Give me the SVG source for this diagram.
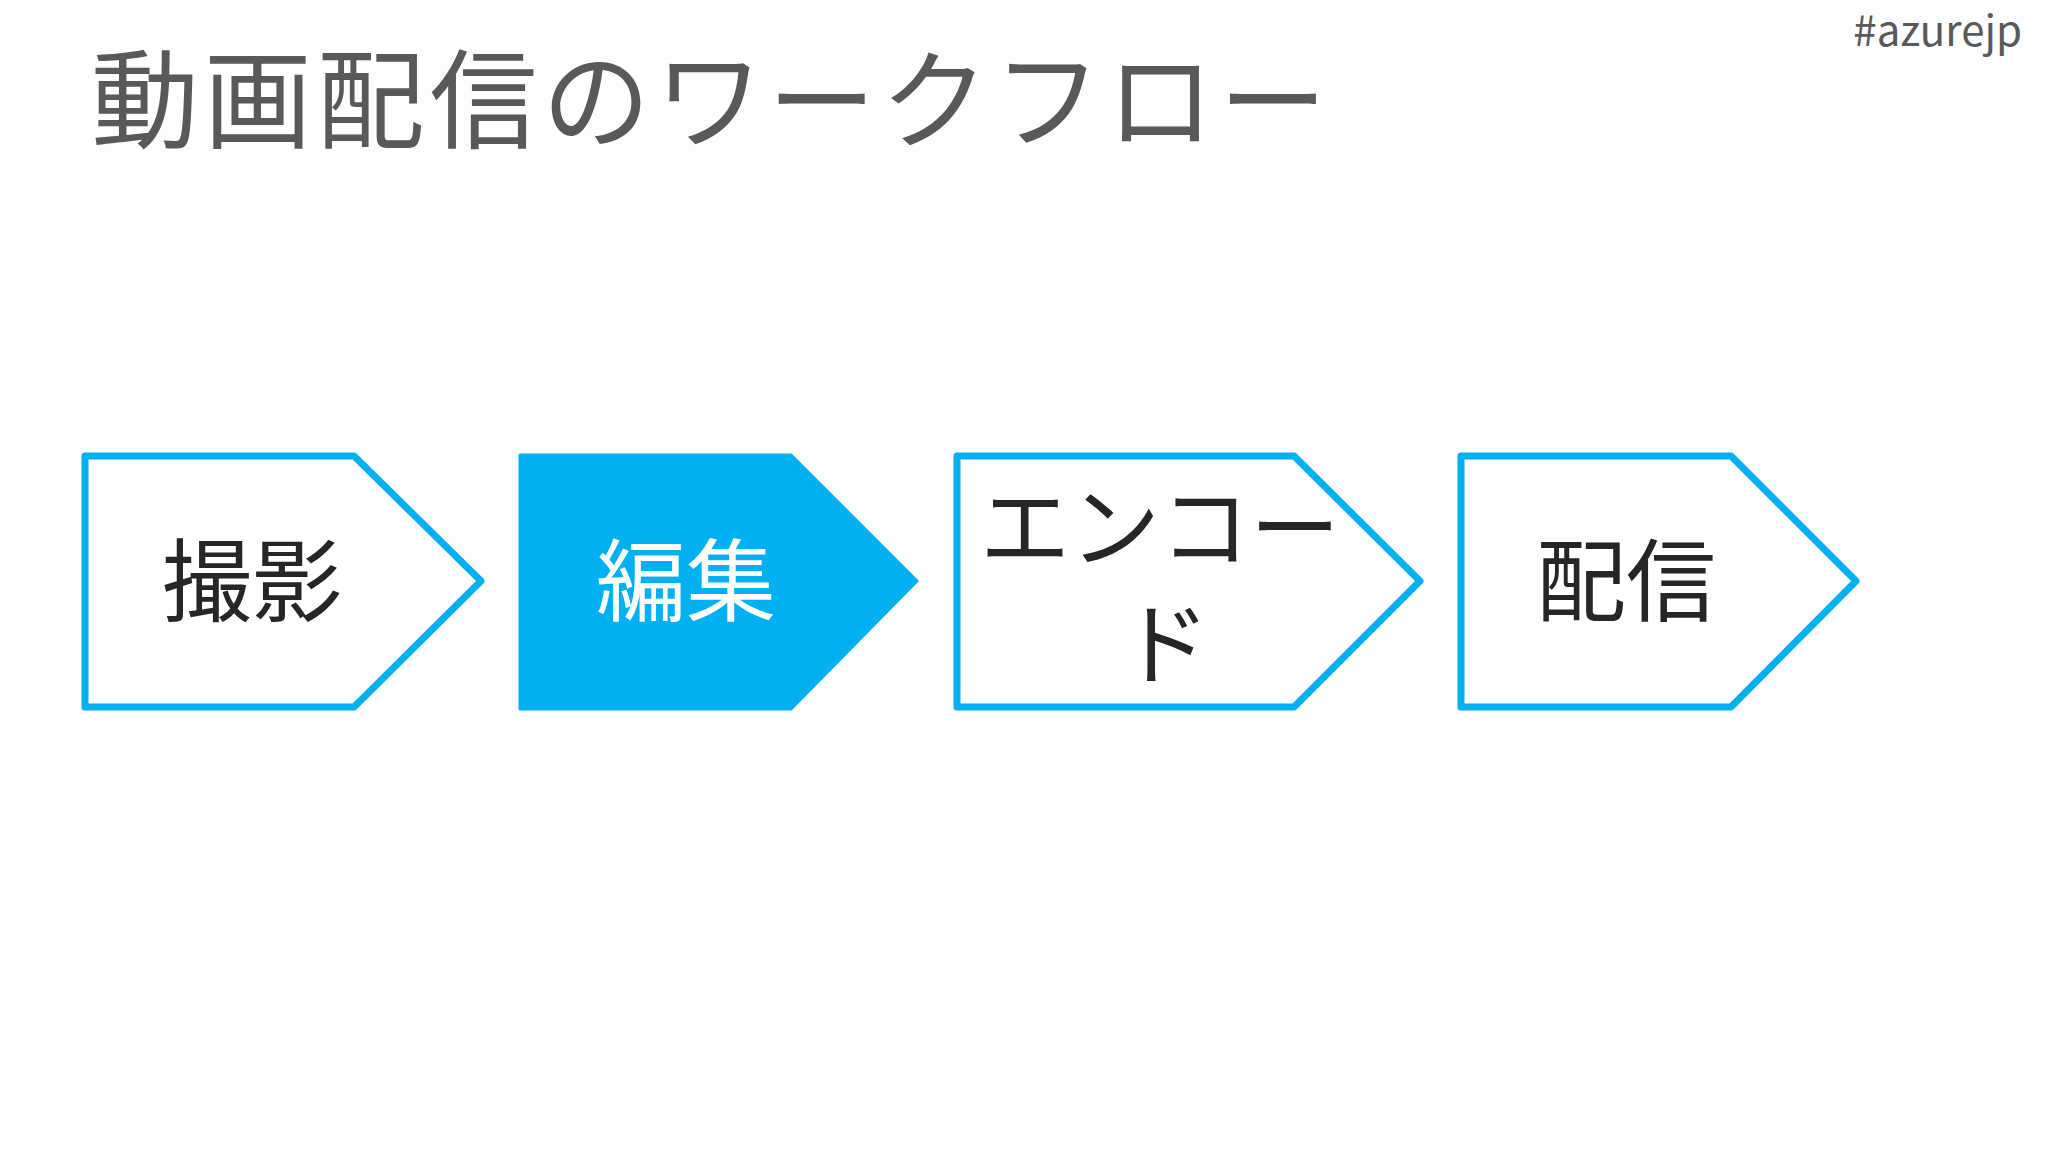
<svg xmlns="http://www.w3.org/2000/svg" width="2048" height="1152" viewBox="0 0 2048 1152">
<style>
.t{font-family:"Noto Sans CJK JP","Noto Sans",sans-serif}
.box{fill:#fff;stroke:#00b0f0;stroke-width:7;stroke-linejoin:round}
.lbl{font-size:90px;fill:#262626;text-anchor:middle}
</style>
<rect width="2048" height="1152" fill="#fdfdff"/>
<text class="t" x="91" y="140" font-size="108" fill="#595959" textLength="1236" lengthAdjust="spacing">動画配信のワークフロー</text>
<text class="t" x="2022" y="46" font-size="42" fill="#595959" text-anchor="end">#azurejp</text>
<g id="connectors"></g>
<g id="node1"><polygon class="box" points="85,456 354,456 481,581 354,707 85,707"/><text class="t lbl" x="252" y="614">撮影</text></g>
<g id="node2"><polygon points="520,455 791,455 917,581 791,709 520,709" fill="#00b0f0" stroke="#00b0f0" stroke-width="3" stroke-linejoin="round"/><text class="t lbl" x="686" y="614" style="fill:#fff">編集</text></g>
<g id="node3"><polygon class="box" points="957,456 1294,456 1420,581 1294,707 957,707"/><text class="t lbl" x="1160" y="560">エンコー</text><text class="t lbl" x="1165" y="677">ド</text></g>
<g id="node4"><polygon class="box" points="1461,456 1731,456 1856,581 1731,707 1461,707"/><text class="t lbl" x="1626" y="614">配信</text></g>
</svg>
